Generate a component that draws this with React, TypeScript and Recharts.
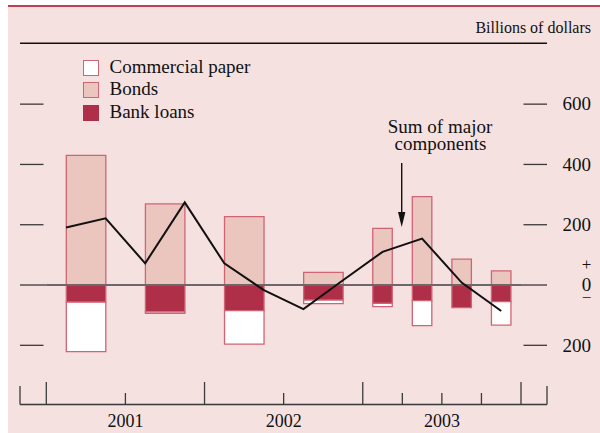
import React from 'react';
import { ComposedChart, Bar, Line, XAxis, YAxis, ReferenceLine, Legend } from 'recharts';

// x positions in quarters: 0 = start of 2001, 12 = end of 2003
const lineQuarters = [0.5, 1.5, 2.5, 3.5, 4.5, 5.5, 6.5, 7.5, 8.5, 9.5, 10.5, 11.5];
const sumOfMajor = [191, 221, 72, 274, 72, -17, -80, 16, 110, 154, 8, -86];

// half-year bars (2001-2002)
const halfYearPos = [1, 3, 5, 7];
const halfBonds = [430, 269, 227, 42];
const halfBankLoans = [-57, -89, -85, -50];
const halfPaper = [-164, -5, -111, -12];

// quarterly bars (2003)
const quarterPos = [8.5, 9.5, 10.5, 11.5];
const qBonds = [188, 293, 86, 47];
const qBankLoans = [-61, -52, -75, -55];
const qPaper = [-11, -83, 0, -78];

const yTicks = [-200, 0, 200, 400, 600];
const xTicks = [0, 2, 4, 6, 8, 9, 10, 11, 12];
const yearPos = [2, 6, 10];
const yearLabels = ['2001', '2002', '2003'];
const legendNames = ['Commercial paper', 'Bonds', 'Bank loans'];

const W = 600;
const H = 433;
const MARGIN = { top: 74, right: 79, bottom: 27.55, left: 16.3 };
const Y_DOMAIN = [-300, 700];
const X_DOMAIN = [0, 12];

const SERIF = "'Liberation Serif', 'Times New Roman', serif";
const BG = '#f5e1e0';
const BONDS = '#eac6be';
const BANK = '#b02f48';
const PAPER = '#ffffff';
const EDGE = '#cf6475';
const TICK = '#3a3a3a';

const halfRows = halfYearPos.map((x, i) => ({
  x,
  bonds: halfBonds[i],
  bank: halfBankLoans[i],
  paper: halfPaper[i],
}));

const quarterRows = lineQuarters.map((x, i) => {
  const q = quarterPos.indexOf(x);
  return {
    x,
    sum: sumOfMajor[i],
    bonds: q >= 0 ? qBonds[q] : null,
    bank: q >= 0 ? qBankLoans[q] : null,
    paper: q >= 0 ? qPaper[q] : null,
  };
});

// ticks on both sides of the plot, labels on the right
const ValueTick = (props: any) => {
  const { y, payload } = props;
  const v = payload.value;
  return (
    <g>
      <line x1={20} x2={v === 0 ? 46.3 : 43.5} y1={y} y2={y} stroke={TICK} strokeWidth={1.3} />
      <line x1={v === 0 ? 521 : 523.5} x2={547} y1={y} y2={y} stroke={TICK} strokeWidth={1.3} />
      {v === 0 ? (
        <text textAnchor="middle" fontFamily={SERIF} fill="#111">
          <tspan x={586.5} y={y - 15} fontSize={17}>+</tspan>
          <tspan x={586.5} y={y} dy="0.33em" fontSize={19}>0</tspan>
          <tspan x={586.5} y={y + 18} fontSize={17}>−</tspan>
        </text>
      ) : (
        <text x={591} y={y} dy="0.33em" textAnchor="end" fontSize={19} fontFamily={SERIF} fill="#111">
          {Math.abs(v)}
        </text>
      )}
    </g>
  );
};

const BottomTick = (props: any) => {
  const { x, payload } = props;
  const v = payload.value;
  const major = v % 4 === 0;
  const yi = yearPos.indexOf(v);
  return (
    <g>
      <line x1={x} x2={x} y1={404.5} y2={major ? 382 : 393} stroke={TICK} strokeWidth={1.3} />
      {yi >= 0 && (
        <text x={x} y={426.5} textAnchor="middle" fontSize={18} fontFamily={SERIF} fill="#111">
          {yearLabels[yi]}
        </text>
      )}
    </g>
  );
};

const LegendBox = () => {
  const fills = [PAPER, BONDS, BANK];
  return (
    <div style={{ fontFamily: SERIF, fontSize: 19, lineHeight: '22.6px', color: '#111' }}>
      {legendNames.map((n, i) => (
        <div key={n} style={{ display: 'flex', alignItems: 'center', height: 22.6, whiteSpace: 'nowrap' }}>
          <span
            style={{
              display: 'inline-block',
              width: 16,
              height: 16,
              marginTop: 2,
              boxSizing: 'border-box',
              background: fills[i],
              border: `1.3px solid ${i === 2 ? BANK : EDGE}`,
            }}
          />
          <span style={{ marginLeft: 11 }}>{n}</span>
        </div>
      ))}
    </div>
  );
};

const barSeries = (size: number) => [
  <Bar key="bonds" dataKey="bonds" stackId="s" barSize={size} fill={BONDS} stroke={EDGE} strokeWidth={1.3} isAnimationActive={false} />,
  <Bar key="bank" dataKey="bank" stackId="s" barSize={size} fill={BANK} stroke={EDGE} strokeWidth={1.3} isAnimationActive={false} />,
  <Bar key="paper" dataKey="paper" stackId="s" barSize={size} fill={PAPER} stroke={EDGE} strokeWidth={1.3} isAnimationActive={false} />,
];

const App = () => {
  return (
    <div style={{ position: 'absolute', left: 0, top: 0, width: W, height: H, fontFamily: SERIF }}>
      <div
        style={{
          position: 'absolute',
          left: 8,
          top: 5,
          width: W - 8,
          height: H - 5,
          background: BG,
          borderTop: '2.3px solid #c0404f',
          boxSizing: 'border-box',
        }}
      />
      {/* half-year bars */}
      <div style={{ position: 'absolute', left: 0, top: 0 }}>
        <ComposedChart width={W} height={H} data={halfRows} margin={MARGIN} stackOffset="sign">
          <XAxis dataKey="x" type="number" domain={X_DOMAIN} height={30} tick={false} axisLine={false} tickLine={false} />
          <YAxis width={30} domain={Y_DOMAIN} tick={false} axisLine={false} tickLine={false} />
          {barSeries(39.5)}
        </ComposedChart>
      </div>
      {/* quarterly bars, sum line, axes */}
      <div style={{ position: 'absolute', left: 0, top: 0 }}>
        <ComposedChart width={W} height={H} data={quarterRows} margin={MARGIN} stackOffset="sign">
          <XAxis
            dataKey="x"
            type="number"
            domain={X_DOMAIN}
            ticks={xTicks}
            interval={0}
            height={30}
            axisLine={false}
            tickLine={false}
            tick={<BottomTick />}
          />
          <YAxis width={30} domain={Y_DOMAIN} ticks={yTicks} interval={0} axisLine={false} tickLine={false} tick={<ValueTick />} />
          {barSeries(19.5)}
          <ReferenceLine y={0} stroke="#6e6668" strokeWidth={2} />
          <Line dataKey="sum" type="linear" stroke="#111" strokeWidth={2} dot={false} isAnimationActive={false} />
          <Legend
            layout="horizontal"
            verticalAlign="middle"
            align="center"
            content={<LegendBox />}
            wrapperStyle={{ left: 82.5, top: 55.6, width: 220, height: 70 }}
          />
        </ComposedChart>
      </div>
      <svg width={W} height={H} style={{ position: 'absolute', left: 0, top: 0, pointerEvents: 'none' }}>
        <text x={591} y={33.3} textAnchor="end" fontSize={16} fontFamily={SERIF} fill="#111">Billions of dollars</text>
        <line x1={20} x2={547} y1={43.3} y2={43.3} stroke="#111" strokeWidth={1.4} />
        <line x1={20} x2={547} y1={404.5} y2={404.5} stroke={TICK} strokeWidth={1.3} />
        <line x1={20} x2={20} y1={404.5} y2={386} stroke={TICK} strokeWidth={1.3} />
        <line x1={547} x2={547} y1={404.5} y2={386} stroke={TICK} strokeWidth={1.3} />
        <text textAnchor="middle" fontSize={19} fontFamily={SERIF} fill="#111">
          <tspan x={440} y={133.3}>Sum of major</tspan>
          <tspan x={440.5} y={150.3}>components</tspan>
        </text>
        <line x1={401.7} x2={401.7} y1={163} y2={215} stroke="#111" strokeWidth={1.4} />
        <polygon points="398,212 405.4,212 401.7,227" fill="#111" />
      </svg>
    </div>
  );
};

export default App;
